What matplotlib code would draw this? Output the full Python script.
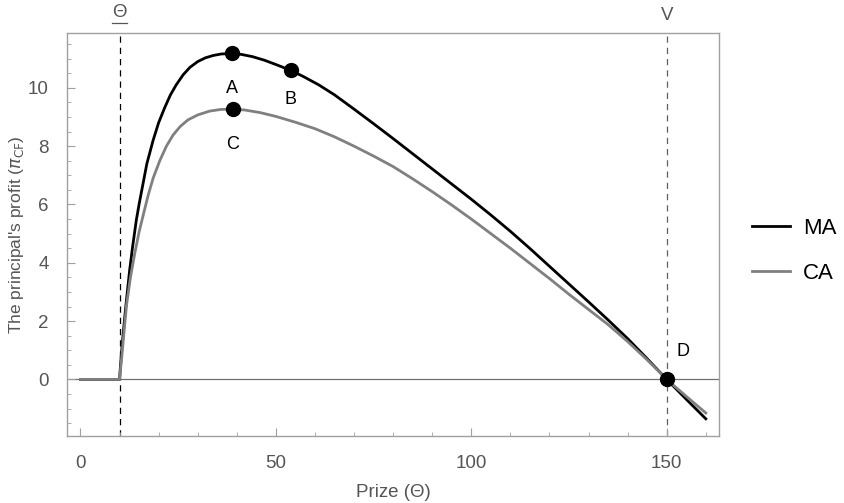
import numpy as np
import matplotlib.pyplot as plt
from matplotlib.transforms import blended_transform_factory

plt.rcParams['font.family'] = ['Liberation Sans', 'DejaVu Sans']

# Profit curves (MA and CA) sampled along the prize axis
ma_x = [0, 10, 10.5, 11, 11.5, 12, 12.6, 13.3, 14.3, 15, 16, 17, 18.6, 20, 21.5, 23,
        24.5, 26.3, 28, 30, 32, 34, 36, 38.7, 41, 44, 47, 50, 53.8, 57, 61, 65, 70,
        75, 80, 85, 90, 95, 100, 105, 110, 115, 120, 125, 130, 135, 140, 145, 150,
        155, 160]
ma_y = [0, 0, 0.9, 1.65, 2.35, 3.0, 3.75, 4.5, 5.46, 6.0, 6.7, 7.4, 8.2, 8.8, 9.3, 9.75,
        10.1, 10.45, 10.7, 10.9, 11.03, 11.11, 11.16, 11.18, 11.15, 11.07, 10.95, 10.8,
        10.6, 10.39, 10.1, 9.76, 9.27, 8.77, 8.26, 7.74, 7.22, 6.7, 6.18, 5.64, 5.08,
        4.49, 3.88, 3.27, 2.66, 2.04, 1.4, 0.71, 0, -0.68, -1.35]

ca_x = [0, 10, 10.6, 11.2, 11.8, 12.8, 13.9, 15, 16, 17.3, 18.6, 20.3, 22, 23.7, 25.5,
        27.5, 30, 33, 36, 39, 42, 46, 50, 55, 60, 65, 70, 75, 80, 85, 90, 95, 100,
        105, 110, 115, 120, 125, 130, 135, 140, 145, 150, 155, 160]
ca_y = [0, 0, 0.8, 1.7, 2.55, 3.5, 4.32, 5.05, 5.6, 6.3, 6.9, 7.5, 8.0, 8.38, 8.67,
        8.9, 9.07, 9.2, 9.26, 9.27, 9.24, 9.15, 9.02, 8.82, 8.6, 8.32, 8.0, 7.66, 7.3,
        6.88, 6.44, 5.98, 5.5, 5.0, 4.5, 3.98, 3.46, 2.92, 2.4, 1.88, 1.3, 0.67, 0,
        -0.58, -1.15]

# Marked points
pt_labels = ['A', 'B', 'C', 'D']
pt_x = [38.7, 53.8, 39.0, 150]
pt_y = [11.18, 10.6, 9.27, 0]

theta_low = 10
v_high = 150

fig = plt.figure(figsize=(8.45, 5.03), dpi=100)
ax = fig.add_axes([0.0793, 0.1332, 0.7717, 0.8006])

ax.axhline(0, color='#707070', lw=0.9, zorder=1)
ax.axvline(theta_low, color='black', lw=0.9, ls=(0, (5, 4)), zorder=1)
ax.axvline(v_high, color='#606060', lw=0.9, ls=(0, (5, 4)), zorder=1)

ax.plot(ma_x, ma_y, color='black', lw=2.0, label='MA', zorder=2)
ax.plot(ca_x, ca_y, color='#808080', lw=2.0, label='CA', zorder=3)

ax.plot(pt_x, pt_y, 'o', color='black', ms=10, zorder=4)
offsets = [(0, -1.2), (0, -1.0), (0, -1.2), (4.2, 0.95)]
for lab, x, y, (dx, dy) in zip(pt_labels, pt_x, pt_y, offsets):
    ax.text(x + dx, y + dy, lab, fontsize=13, ha='center', va='center')

ax.set_xlim(-3.43, 163.4)
ax.set_ylim(-1.94, 11.87)
ax.set_xticks([0, 50, 100, 150])
ax.set_xticks(np.arange(0, 161, 10), minor=True)
ax.set_yticks([0, 2, 4, 6, 8, 10])
ax.set_yticks(np.arange(-1.5, 11.6, 0.5), minor=True)

for s in ax.spines.values():
    s.set_color('#a0a0a0')
    s.set_linewidth(1.0)
ax.tick_params(which='both', direction='in', colors='#a0a0a0', labelcolor='#555555',
               labelsize=13.5)
ax.tick_params(which='major', length=6)
ax.tick_params(which='minor', length=3)
ax.tick_params(axis='x', which='both', pad=14)
ax.tick_params(axis='y', which='both', pad=13)

ax.set_xlabel('Prize (Θ)', fontsize=13.5, color='#555555', labelpad=8)
ax.set_ylabel("The principal's profit ($\\pi_{\\mathrm{CF}}$)", fontsize=12.5,
              color='#555555')
ax.yaxis.set_label_coords(-0.063, 0.5)

# Top markers for the lower bound and the valuation
trans = blended_transform_factory(ax.transData, ax.transAxes)
ax.text(theta_low, 1.03, 'Θ', transform=trans, ha='center', va='bottom',
        fontsize=13.5, color='#555555')
ax.plot([theta_low - 1.8, theta_low + 1.8], [1.026, 1.026], transform=trans,
        color='#555555', lw=0.9, clip_on=False)
ax.text(v_high, 1.022, 'V', transform=trans, ha='center', va='bottom',
        fontsize=13.5, color='#555555')

ax.legend(loc='center left', bbox_to_anchor=(1.02, 0.46), frameon=False,
          fontsize=16, handlelength=1.7, handletextpad=0.6, labelspacing=1.1)

fig.savefig('out.png', dpi=100)
